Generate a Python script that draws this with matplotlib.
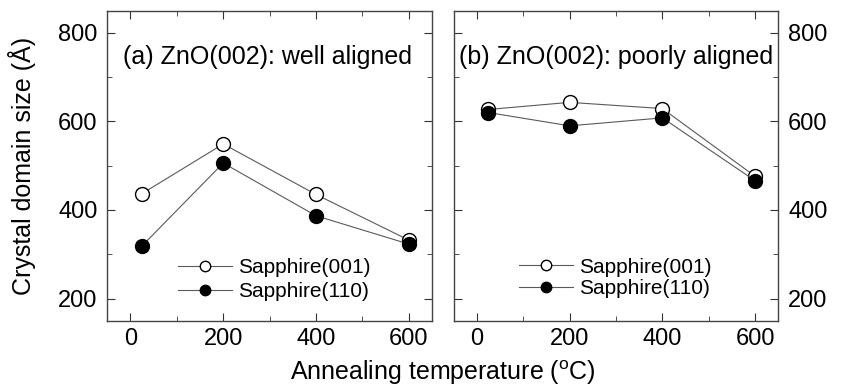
import matplotlib.pyplot as plt
from matplotlib.ticker import MultipleLocator

plt.rcParams['font.family'] = ['Liberation Sans', 'DejaVu Sans']

# data
temps = [25, 200, 400, 600]
well_001 = [437, 549, 435, 332]
well_110 = [319, 506, 387, 323]
poor_001 = [627, 643, 629, 476]
poor_110 = [620, 590, 608, 466]

panels = [
    ('(a) ZnO(002): well aligned', well_001, well_110),
    ('(b) ZnO(002): poorly aligned', poor_001, poor_110),
]

fig = plt.figure(figsize=(8.42, 3.92), dpi=100)
ax_a = fig.add_axes([0.1274, 0.1819, 0.3856, 0.7908])
ax_b = fig.add_axes([0.5388, 0.1819, 0.3856, 0.7908])

text_x = [0.049, 0.017]
leg_x = [0.218, 0.202]
leg_y = [0.132, 0.138]
leg_sp = [0.25, 0.12]

for i, (ax, (title, s001, s110)) in enumerate(zip([ax_a, ax_b], panels)):
    ax.plot(temps, s001, '-o', color='#5a5a5a', lw=0.8, ms=10,
            mfc='white', mec='black', mew=1.0, label='Sapphire(001)')
    ax.plot(temps, s110, '-o', color='#5a5a5a', lw=0.8, ms=10,
            mfc='black', mec='black', mew=1.0, label='Sapphire(110)')
    ax.set_xlim(-50, 650)
    ax.set_ylim(150, 850)
    ax.xaxis.set_major_locator(MultipleLocator(200))
    ax.xaxis.set_minor_locator(MultipleLocator(100))
    ax.yaxis.set_major_locator(MultipleLocator(200))
    ax.yaxis.set_minor_locator(MultipleLocator(100))
    ax.tick_params(which='both', direction='in', top=True, right=True,
                   labelsize=17, color='#333333')
    ax.tick_params(which='major', length=6, pad=7)
    ax.tick_params(which='minor', length=3.5)
    ax.tick_params(axis='x', which='major', pad=5)
    for sp in ax.spines.values():
        sp.set_color('#444444')
        sp.set_linewidth(1.0)
    ax.text(text_x[i], 0.852, title, transform=ax.transAxes,
            fontsize=18, va='center', ha='left')
    ax.legend(loc='center left', bbox_to_anchor=(leg_x[i], leg_y[i]),
              frameon=False, fontsize=15, handlelength=2.58, markerscale=0.75,
              labelspacing=leg_sp[i], handletextpad=0.29, borderpad=0,
              borderaxespad=0)

ax_b.tick_params(labelleft=False, labelright=True)
fig.text(0.0258, 0.577, 'Crystal domain size (Å)', rotation=90,
         ha='center', va='center', fontsize=18)
fig.text(0.526, 0.05, 'Annealing temperature ($\\mathregular{^oC}$)',
         ha='center', va='center', fontsize=18)

fig.savefig('out.png', dpi=100)
